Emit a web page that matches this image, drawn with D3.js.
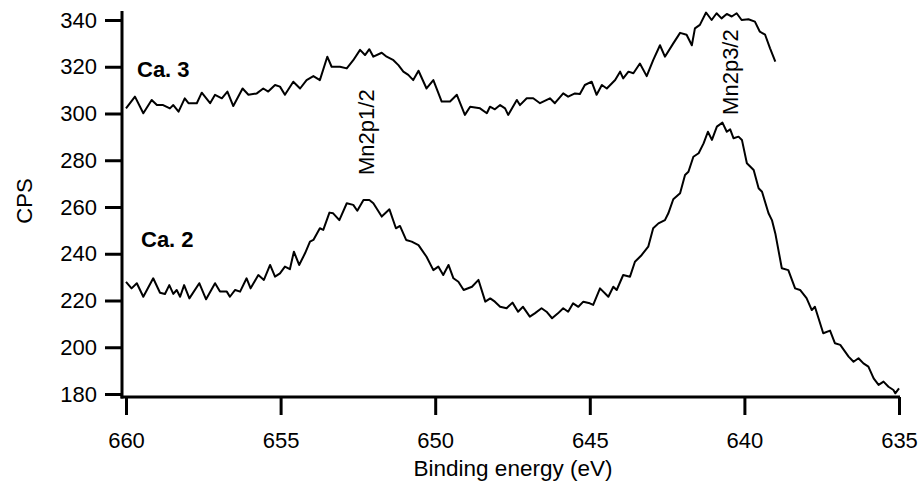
<!DOCTYPE html>
<html lang="en">
<head>
<meta charset="UTF-8">
<script src="https://cdn.jsdelivr.net/npm/d3@7"></script>
<title>Mn2p spectra</title>
<style>
    body { margin: 0; background: #fff; }
    svg text { font-family: Arial, "Liberation Sans", sans-serif; font-size: 22px; fill: #000; }
    .axis line, .frame { stroke: #000; stroke-width: 3px; }
    .curve { fill: none; stroke: #000; stroke-width: 2px; stroke-linejoin: round; }
</style>
</head>
<body>
<svg width="923" height="490"></svg>
<script>
// Ca. 3 spectrum (binding energy, counts per second)
var ca3Energy = [660, 659.71, 659.44, 659.17, 659.0, 658.8, 658.58, 658.47, 658.3, 658.1,
    657.98, 657.71, 657.55, 657.28, 657.12, 656.9, 656.72, 656.53, 656.23, 656.04,
    655.77, 655.56, 655.4, 655.18, 655.02, 654.86, 654.59, 654.37, 654.16, 653.94,
    653.73, 653.49, 653.35, 653.08, 652.86, 652.65, 652.43, 652.27, 652.13, 652.0,
    651.73, 651.57, 651.35, 651.19, 651.03, 650.87, 650.71, 650.54, 650.28, 650.06,
    649.79, 649.52, 649.3, 649.04, 648.87, 648.55, 648.33, 648.23, 648.07, 647.9,
    647.74, 647.64, 647.36, 647.26, 647.04, 646.83, 646.61, 646.29, 646.13, 645.86,
    645.7, 645.48, 645.32, 645.16, 644.94, 644.78, 644.61, 644.45, 644.18, 644.02,
    643.92, 643.75, 643.59, 643.38, 643.16, 642.95, 642.73, 642.57, 642.3, 642.08,
    641.87, 641.7, 641.6, 641.44, 641.24, 641.06, 640.9, 640.74, 640.57, 640.41,
    640.25, 640.09, 639.87, 639.66, 639.5, 639.33, 639.17, 639.0];
var ca3Cps = [302.2, 307.2, 300.1, 305.8, 303.6, 303.6, 302.2, 303.6, 300.8, 306.5,
    304.4, 304.4, 308.9, 304.4, 308, 306.5, 309.4, 303.2, 310.7, 308,
    308.6, 310.7, 309.4, 312.2, 311.5, 308, 313.6, 310.7, 314.3, 316,
    314.3, 324.3, 320, 320, 319.3, 322.8, 327.2, 325, 327.5, 324.3,
    326, 324.3, 322.8, 320.7, 317.9, 316.5, 314.3, 318.3, 310.7, 314.3,
    305.1, 305.1, 308, 299.4, 302.9, 302.2, 300.1, 302.9, 301.8, 303.6,
    302.2, 299.4, 305.8, 303.6, 306.5, 306.5, 304.4, 306.5, 304.4, 308.6,
    307.2, 308.6, 308.3, 312.2, 313.6, 308, 312.2, 310.7, 314.3, 317.9,
    315, 317.9, 317.2, 321.4, 316, 322.8, 329.2, 324.3, 330, 334.5,
    333.7, 329.2, 336.4, 337.9, 343.2, 340, 342.9, 340.7, 342.6, 341.5,
    342.9, 340, 340.3, 339.3, 335, 333.7, 327.9, 322.2];

// Ca. 2 spectrum
var ca2Energy = [660, 659.82, 659.65, 659.44, 659.12, 658.9, 658.74, 658.6, 658.47, 658.36,
    658.25, 658.12, 657.95, 657.63, 657.41, 657.12, 656.96, 656.74, 656.64, 656.47,
    656.31, 656.1, 655.97, 655.72, 655.54, 655.34, 655.18, 655.02, 654.86, 654.7,
    654.57, 654.4, 654.21, 654.05, 653.94, 653.73, 653.62, 653.42, 653.3, 653.1,
    652.86, 652.65, 652.52, 652.32, 652.13, 652.0, 651.73, 651.48, 651.27, 651.14,
    650.94, 650.76, 650.54, 650.28, 650.06, 649.9, 649.74, 649.57, 649.41, 649.25,
    649.08, 648.81, 648.6, 648.38, 648.22, 648.07, 647.9, 647.69, 647.5, 647.32,
    647.16, 646.94, 646.78, 646.56, 646.4, 646.22, 646.03, 645.86, 645.7, 645.54,
    645.37, 645.21, 645.0, 644.89, 644.67, 644.4, 644.24, 644.13, 643.92, 643.7,
    643.54, 643.32, 643.11, 642.95, 642.78, 642.57, 642.46, 642.3, 642.08, 641.92,
    641.81, 641.65, 641.48, 641.32, 641.18, 641.05, 640.89, 640.71, 640.57, 640.46,
    640.35, 640.19, 640.08, 639.92, 639.7, 639.54, 639.43, 639.22, 639.11, 639.0,
    638.79, 638.58, 638.36, 638.2, 637.99, 637.82, 637.72, 637.45, 637.23, 637.07,
    636.9, 636.63, 636.47, 636.31, 636.15, 635.99, 635.82, 635.66, 635.5, 635.34,
    635.18, 635.12, 635.0];
var ca2Cps = [228, 225.2, 227.4, 221.6, 229.5, 223.3, 222.8, 226.6, 222.8, 224.5,
    221.6, 226.6, 220.9, 227.4, 220.5, 227.4, 223.8, 223.8, 221.6, 224.5,
    223.8, 229.5, 225.2, 230.9, 228.8, 235.2, 230.2, 231.6, 234.5, 233.4,
    240.9, 235.2, 240.2, 245.2, 245.9, 250.9, 250.2, 257.6, 257.3, 254.4,
    261.6, 260.9, 258.4, 263, 263, 261.6, 255.9, 259, 250.9, 251.9,
    245.9, 245.2, 243.7, 238.7, 233, 234.5, 230.9, 235.2, 229.5, 228,
    224.5, 225.9, 228.8, 219.5, 220.9, 219.5, 217.3, 216.7, 219.1, 215.2,
    217.3, 213.1, 214.5, 216.7, 215.2, 212.4, 214.5, 216.7, 215.2, 218.8,
    217.3, 219.5, 218.8, 218.1, 225.2, 221.6, 225.9, 224.5, 230.9, 230.2,
    236.6, 239.5, 243, 250.9, 253, 254.4, 257.3, 263.3, 265.9, 273.7,
    275.1, 281.5, 283, 287.2, 292.2, 288.7, 294.4, 296.1, 292.2, 293.2,
    289.4, 290.1, 288.7, 278.7, 275.8, 268, 266.5, 257.3, 254.4, 248.7,
    233.8, 233, 225.2, 224.5, 221, 215.9, 217.3, 206, 207.1, 201.7,
    201, 196, 193.8, 195.3, 193.1, 191.7, 186.7, 183.9, 185.3, 183.1,
    181.7, 180.3, 182.4];

var xTicks = [660, 655, 650, 645, 640, 635];
var yTicks = [180, 200, 220, 240, 260, 280, 300, 320, 340];

var peakLabels = ["Mn2p1/2", "Mn2p3/2"];
var peakEnergy = [651.98, 640.21];
var peakCps = [273.7, 299.4];

var svg = d3.select("svg");

var x = d3.scaleLinear().domain([660, 635]).range([126, 899]);
var y = d3.scaleLinear().domain([180, 340]).range([394, 20]);

// axes (Igor-style: lines sit just outside the first tick)
var xg = svg.append("g").attr("class", "axis")
    .attr("transform", "translate(0,397)")
    .call(d3.axisBottom(x).tickValues(xTicks).tickSize(18).tickPadding(17).tickFormat(d3.format("d")));
xg.select(".domain").remove();

var yg = svg.append("g").attr("class", "axis")
    .attr("transform", "translate(122,0)")
    .call(d3.axisLeft(y).tickValues(yTicks).tickSize(17).tickPadding(8).tickFormat(d3.format("d")));
yg.select(".domain").remove();

svg.append("line").attr("class", "frame")
    .attr("x1", 122).attr("x2", 122).attr("y1", 11).attr("y2", 398.5);
svg.append("line").attr("class", "frame")
    .attr("x1", 120.5).attr("x2", 900).attr("y1", 397).attr("y2", 397);

// curves
var line = d3.line().x(d => x(d[0])).y(d => y(d[1]));

svg.append("path").attr("class", "curve")
    .attr("d", line(d3.zip(ca3Energy, ca3Cps)));
svg.append("path").attr("class", "curve")
    .attr("d", line(d3.zip(ca2Energy, ca2Cps)));

// labels
svg.append("text").attr("x", 137).attr("y", 77)
    .style("font-weight", "bold").text("Ca. 3");
svg.append("text").attr("x", 141).attr("y", 247)
    .style("font-weight", "bold").text("Ca. 2");

peakLabels.forEach(function(t, i) {
    svg.append("text")
        .attr("transform", "translate(" + x(peakEnergy[i]) + "," + y(peakCps[i]) + ") rotate(-90)")
        .text(t);
});

svg.append("text").attr("x", 513).attr("y", 476)
    .attr("text-anchor", "middle").style("font-size", "22.5px").text("Binding energy (eV)");
svg.append("text").attr("transform", "translate(32,201) rotate(-90)")
    .attr("text-anchor", "middle").text("CPS");
</script>
</body>
</html>
